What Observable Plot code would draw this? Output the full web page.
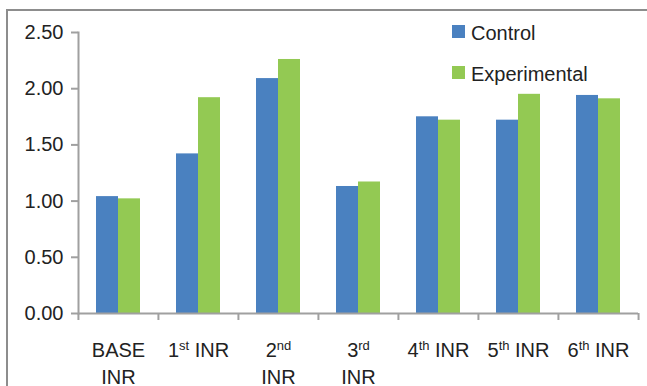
<!DOCTYPE html>
<html>
<head>
<meta charset="utf-8">
<script src="https://cdn.jsdelivr.net/npm/d3@7"></script>
<script src="https://cdn.jsdelivr.net/npm/@observablehq/plot@0.6"></script>
<style>
  html, body { margin: 0; padding: 0; background: #fff; overflow: hidden; }
  #wrap { position: relative; width: 647px; height: 386px; overflow: hidden;
          font-family: "Liberation Sans", Arial, sans-serif; }
  #border { position: absolute; left: 6px; top: 9px; width: 720px; height: 520px;
            border: 2px solid #8d8d8d; box-sizing: border-box; pointer-events: none; }
  .key { position: absolute; font-size: 20px; line-height: 20px; color: #222; white-space: nowrap; }
  .key i { position: absolute; left: -19px; top: 2px; width: 13px; height: 13px; }
</style>
</head>
<body>
<div id="wrap">
  <div id="chart"></div>
  <div id="legend"></div>
  <div id="border"></div>
</div>
<script>
// INR readings per visit, control vs experimental group
const categories = ["BASE INR", "1st INR", "2nd INR", "3rd INR", "4th INR", "5th INR", "6th INR"];
const tickLabels = ["BASE\nINR", "1st INR", "2nd\nINR", "3rd\nINR", "4th INR", "5th INR", "6th INR"];
const series = ["Control", "Experimental"];
const control = [1.04, 1.42, 2.09, 1.13, 1.75, 1.72, 1.94];
const experimental = [1.02, 1.92, 2.26, 1.17, 1.72, 1.95, 1.91];
const yTicks = [0, 0.5, 1, 1.5, 2, 2.5];
const colors = ["#4a81c0", "#93c953"];

const rows = categories.flatMap((c, i) => [
  {category: c, series: series[0], value: control[i]},
  {category: c, series: series[1], value: experimental[i]}
]);
const labelOf = new Map(categories.map((c, i) => [c, tickLabels[i]]));

const W = 647, H = 386, mL = 77, mR = 9, mT = 32, mB = 73;
const step = (W - mL - mR) / categories.length;
const axisColor = "#a0a0a0";
const textColor = "#222";

const chart = Plot.plot({
  width: W, height: H,
  marginLeft: mL, marginRight: mR, marginTop: mT, marginBottom: mB,
  style: {fontFamily: "Liberation Sans, Arial, sans-serif", fontSize: "20px", background: "transparent", color: textColor},
  fx: {domain: categories, paddingInner: 0, paddingOuter: 0, axis: null, label: null},
  x: {domain: series, paddingInner: 0, paddingOuter: 0.78, axis: null, label: null},
  y: {domain: [0, 2.5], axis: null, label: null},
  color: {domain: series, range: colors},
  marks: [
    Plot.barY(rows, {fx: "category", x: "series", y: "value", fill: "series"}),
    // value axis
    Plot.frame({anchor: "left", facetAnchor: "left", stroke: axisColor, strokeWidth: 2}),
    Plot.axisY(yTicks, {anchor: "left", label: null, tickSize: 7, tickPadding: 8, tickFormat: d3.format(".2f"),
      stroke: axisColor, strokeWidth: 2, fill: textColor, fontSize: 20}),
    // category axis: baseline, ticks on the group boundaries, and labels
    Plot.ruleY([0], {stroke: axisColor, strokeWidth: 2}),
    Plot.axisFx({anchor: "bottom", label: null, tickSize: 7, tickFormat: () => "", dx: -step / 2,
      stroke: axisColor, strokeWidth: 2}),
    Plot.axisFx({anchor: "bottom", label: null, ticks: [categories[categories.length - 1]], tickSize: 7,
      tickFormat: () => "", dx: step / 2, stroke: axisColor, strokeWidth: 2}),
    Plot.text(categories, {fx: d => d, text: d => labelOf.get(d), frameAnchor: "bottom",
      lineAnchor: "top", dy: 23.5, lineHeight: 1.38, fontSize: 20, fill: textColor})
  ]
});
document.getElementById("chart").appendChild(chart);

// ordinal suffixes (st, nd, rd, th) as raised small text
d3.select(chart).selectAll("text").each(function () {
  const nodes = this.querySelector("tspan") ? Array.from(this.querySelectorAll("tspan")) : [this];
  for (const node of nodes) {
    const m = /^(\d)(st|nd|rd|th)(.*)$/.exec(node.textContent);
    if (!m) continue;
    node.textContent = m[1];
    const sup = document.createElementNS("http://www.w3.org/2000/svg", "tspan");
    sup.setAttribute("font-size", 13);
    sup.setAttribute("baseline-shift", "7px");
    sup.textContent = m[2];
    node.appendChild(sup);
    if (m[3]) {
      const rest = document.createElementNS("http://www.w3.org/2000/svg", "tspan");
      rest.textContent = m[3];
      node.appendChild(rest);
    }
  }
});

// legend
const legend = document.getElementById("legend");
series.forEach((s, i) => {
  const item = document.createElement("div");
  item.className = "key";
  item.style.left = "471px";
  item.style.top = (23 + i * 41) + "px";
  const sw = document.createElement("i");
  sw.style.background = colors[i];
  item.appendChild(sw);
  item.appendChild(document.createTextNode(s));
  legend.appendChild(item);
});
</script>
</body>
</html>
